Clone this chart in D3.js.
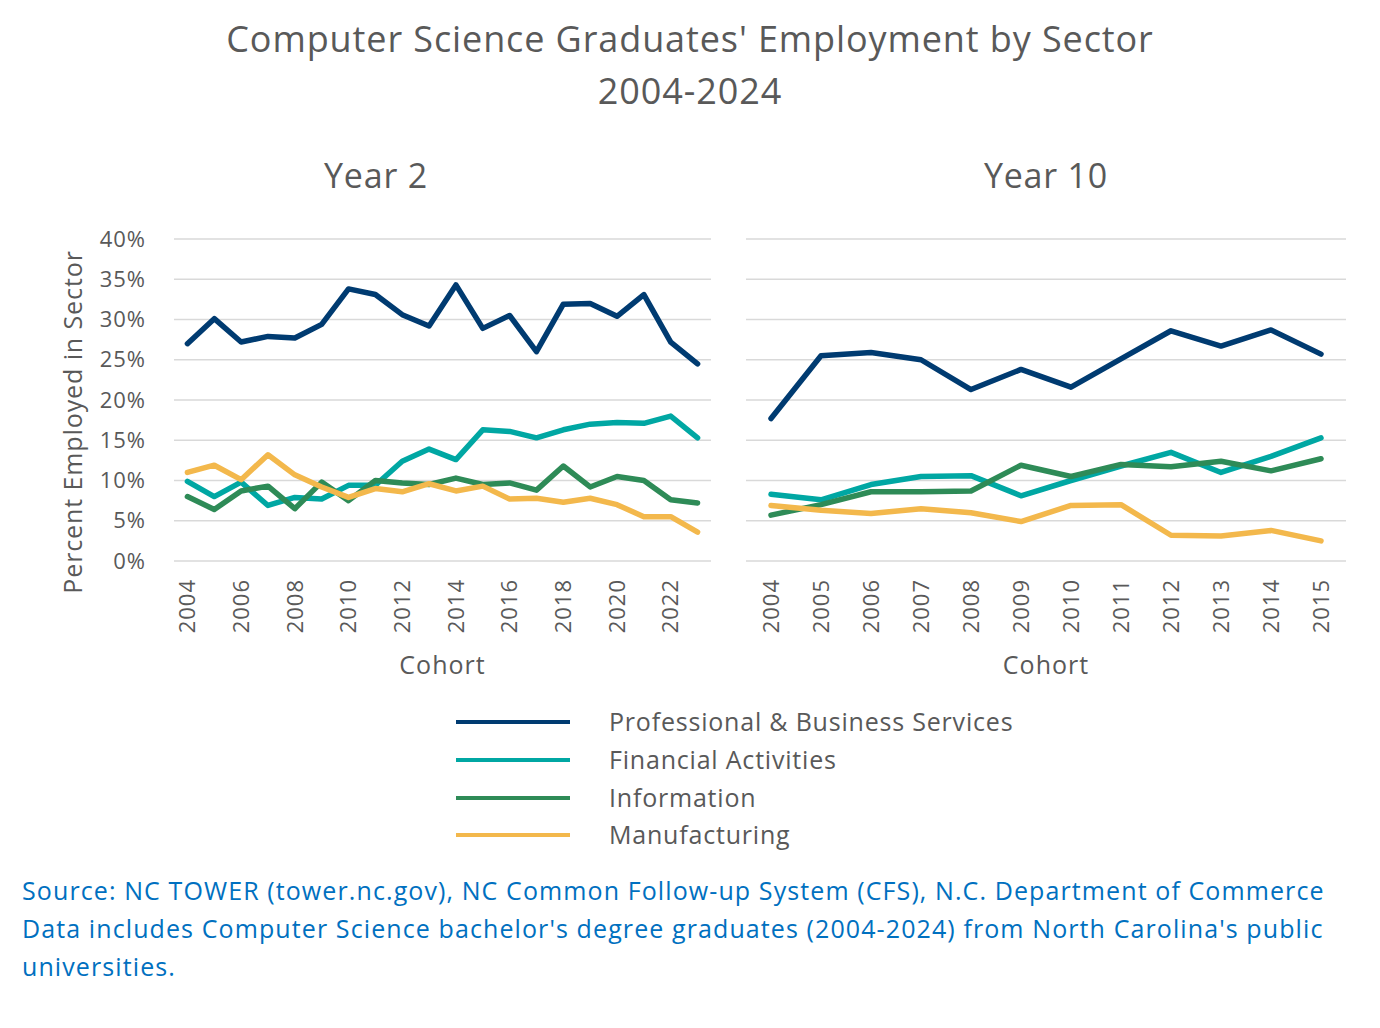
<!DOCTYPE html>
<html>
<head>
  <meta charset="utf-8">
  <title>Computer Science Graduates' Employment by Sector</title>
  <script src="https://cdn.jsdelivr.net/npm/d3@7"></script>
  <style>
    body { margin: 0; background: #fff; }
    text { font-family: "Open Sans", Lato, sans-serif; fill: #595959; }
    .domain { display: none; }
    .tick line { display: none; }
  </style>
</head>
<body>
  <svg id="chart" width="1380" height="1028"></svg>
  <script>
    // data
    const sectors = ['Professional & Business Services', 'Financial Activities', 'Information', 'Manufacturing'];
    const colors = ['#003b71', '#00a7a3', '#2e8b57', '#f3b84c'];

    const year2Cohorts = d3.range(2004, 2024);
    const year2Prof = [27.0, 30.1, 27.2, 27.9, 27.7, 29.4, 33.8, 33.1, 30.6, 29.2, 34.3, 28.9, 30.5, 26.0, 31.9, 32.0, 30.4, 33.1, 27.2, 24.5];
    const year2Fin = [9.9, 8.0, 9.8, 6.9, 7.9, 7.7, 9.4, 9.4, 12.4, 13.9, 12.6, 16.3, 16.1, 15.3, 16.3, 17.0, 17.2, 17.1, 18.0, 15.3];
    const year2Info = [8.0, 6.4, 8.7, 9.3, 6.5, 9.8, 7.5, 10.0, 9.7, 9.5, 10.3, 9.5, 9.7, 8.8, 11.8, 9.2, 10.5, 10.0, 7.6, 7.2];
    const year2Manu = [11.0, 11.9, 10.1, 13.2, 10.7, 9.2, 7.9, 9.0, 8.6, 9.6, 8.7, 9.3, 7.7, 7.8, 7.3, 7.8, 7.0, 5.5, 5.5, 3.6];

    const year10Cohorts = d3.range(2004, 2016);
    const year10Prof = [17.7, 25.5, 25.9, 25.0, 21.3, 23.8, 21.6, 25.1, 28.6, 26.7, 28.7, 25.7];
    const year10Fin = [8.3, 7.6, 9.5, 10.5, 10.6, 8.1, 10.0, 11.8, 13.5, 11.0, 13.0, 15.3];
    const year10Info = [5.7, 7.0, 8.6, 8.6, 8.7, 11.9, 10.5, 12.0, 11.7, 12.4, 11.2, 12.7];
    const year10Manu = [6.9, 6.3, 5.9, 6.5, 6.0, 4.9, 6.9, 7.0, 3.2, 3.1, 3.8, 2.5];

    const yTicks = [0, 5, 10, 15, 20, 25, 30, 35, 40];

    const svg = d3.select('#chart');

    svg.append('text').attr('x', 690).attr('y', 52).attr('text-anchor', 'middle')
      .style('font-size', '36px').style('letter-spacing', '0.9px')
      .text("Computer Science Graduates' Employment by Sector");
    svg.append('text').attr('x', 690).attr('y', 104).attr('text-anchor', 'middle')
      .style('font-size', '36px').style('letter-spacing', '0.9px').text('2004-2024');

    const y = d3.scaleLinear().domain([0, 40]).range([561, 239]);

    function panel(title, titleX, cohorts, series, x0, x1, labelEvery, withYAxis) {
      const g = svg.append('g');
      const x = d3.scaleBand().domain(cohorts).range([x0, x1]);
      const cx = d => x(d) + x.bandwidth() / 2;

      g.append('text').attr('x', titleX).attr('y', 188).attr('text-anchor', 'middle')
        .style('font-size', '34px').style('letter-spacing', '0.8px').text(title);

      // gridlines
      g.selectAll('.grid').data(yTicks).join('line')
        .attr('x1', x0).attr('x2', x1)
        .attr('y1', d => y(d)).attr('y2', d => y(d))
        .attr('stroke', '#d9d9d9').attr('stroke-width', 1.5);

      if (withYAxis) {
        const ya = g.append('g').attr('transform', `translate(${x0 - 25},0)`)
          .call(d3.axisLeft(y).tickValues(yTicks).tickSize(0).tickFormat(d => d + '%'));
        ya.selectAll('text').style('font-size', '22px').style('letter-spacing', '1px')
          .attr('fill', '#595959').attr('dx', 0);
      }

      const xa = g.append('g').attr('transform', 'translate(0,575)')
        .call(d3.axisBottom(x).tickSize(0)
          .tickValues(cohorts.filter((d, i) => i % labelEvery === 0)));
      xa.selectAll('text')
        .style('font-size', '22px').style('letter-spacing', '1px').attr('fill', '#595959')
        .attr('transform', 'rotate(-90)')
        .attr('text-anchor', 'end')
        .attr('x', -4).attr('y', 0).attr('dy', '0.35em');

      g.append('text').attr('x', (x0 + x1) / 2).attr('y', 674).attr('text-anchor', 'middle')
        .style('font-size', '25px').style('letter-spacing', '1px').text('Cohort');

      const line = d3.line().x((d, i) => cx(cohorts[i])).y(d => y(d));
      series.forEach((vals, k) => {
        g.append('path').datum(vals)
          .attr('d', line)
          .attr('fill', 'none')
          .attr('stroke', colors[k])
          .attr('stroke-width', 5.5)
          .attr('stroke-linejoin', 'round')
          .attr('stroke-linecap', 'round');
      });
    }

    panel('Year 2', 376, year2Cohorts, [year2Prof, year2Fin, year2Info, year2Manu], 174, 711, 2, true);
    panel('Year 10', 1046, year10Cohorts, [year10Prof, year10Fin, year10Info, year10Manu], 746, 1346, 1, false);

    svg.append('text')
      .attr('transform', 'translate(82,422) rotate(-90)')
      .attr('text-anchor', 'middle')
      .style('font-size', '25px').style('letter-spacing', '0.9px')
      .text('Percent Employed in Sector');

    // legend
    const legendY = [722, 760, 798, 835];
    const legend = svg.append('g');
    sectors.forEach((s, i) => {
      legend.append('line')
        .attr('x1', 456).attr('x2', 570)
        .attr('y1', legendY[i]).attr('y2', legendY[i])
        .attr('stroke', colors[i]).attr('stroke-width', 4);
      legend.append('text')
        .attr('x', 609).attr('y', legendY[i]).attr('dy', '0.35em')
        .style('font-size', '25px').style('letter-spacing', '0.8px').text(s);
    });

    const sourceLines = [
      'Source: NC TOWER (tower.nc.gov), NC Common Follow-up System (CFS), N.C. Department of Commerce',
      "Data includes Computer Science bachelor's degree graduates (2004-2024) from North Carolina's public",
      'universities.'
    ];
    svg.append('g').selectAll('text').data(sourceLines).join('text')
      .attr('x', 22).attr('y', (d, i) => 900 + i * 38)
      .style('font-size', '25px').style('letter-spacing', '1.1px').style('fill', '#0070c0')
      .text(d => d);
  </script>
</body>
</html>
